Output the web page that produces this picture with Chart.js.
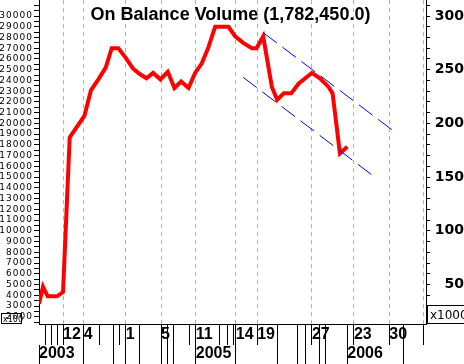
<!DOCTYPE html>
<html>
<head>
<meta charset="utf-8">
<script src="https://cdn.jsdelivr.net/npm/chart.js@4.4.1/dist/chart.umd.min.js"></script>
<style>
  html, body { margin: 0; padding: 0; background: #fff; }
</style>
</head>
<body>
<canvas id="obvChart" width="464" height="364"></canvas>
<script>
// OBV line (period = weeks from start, value in x100)
const periods = [0, 0.6, 1.3, 2.7, 3.6, 4.6, 6.8, 7.8, 8.9, 10.0, 10.9, 11.9, 13.0, 14.1, 15.1,
  16.1, 17.1, 18.2, 19.3, 20.3, 21.3, 22.4, 23.4, 24.4, 25.4, 26.4, 28.4, 29.4, 30.6, 31.9,
  32.6, 33.6, 34.9, 35.7, 36.7, 37.8, 38.9, 39.9, 40.9, 42.1, 43.4, 44.0, 45.1, 46.2];
const obv = [3200, 4800, 3900, 3900, 4300, 18700, 20700, 23100, 24100, 25200, 27000, 27000, 26100, 25100, 24600,
  24200, 24700, 24100, 24800, 23300, 23900, 23300, 24700, 25600, 27100, 29000, 29000, 28100, 27500, 27000,
  27000, 28100, 23400, 22200, 22800, 22800, 23700, 24200, 24700, 24200, 23400, 22800, 17200, 17824.5];

// trend channel
const upperX = [33.6, 53.4];
const upperY = [28450, 19170];
const lowerX = [30.6, 49.9];
const lowerY = [24290, 15200];

// bottom rows
const row1Ticks = [0.9, 1.8, 2.7, 3.6, 6.7, 9.1, 11.1, 12.1, 13.0, 15.1, 18.3, 19.2, 20.1, 22.6, 23.5,
  27.1, 28.2, 29.1, 29.5, 32.7, 35.8, 38.8, 39.9, 40.9, 42.1, 43.0, 46.2, 47.2, 52.5, 54.6, 57.6];
const row1Labels = ['', '', '', '12', '4', '', '', '', '1', '', '5', '', '', '', '11',
  '', '', '', '14', '19', '', '', '', '27', '', '', '', '23', '30', '', ''];
const gridTicks = [3.6, 6.7, 13.0, 18.3, 23.5, 29.5, 32.7, 40.9, 47.2, 52.5, 57.6];
const row2Ticks = [0, 6.7, 11.1, 13.0, 15.1, 18.3, 19.2, 20.1, 23.5, 29.5, 35.8, 38.8, 39.9, 42.1, 43.0, 46.2, 54.6];
const row2Labels = ['2003', '', '', '', '', '', '', '', '2005', '', '', '', '', '', '', '2006', ''];

// value axes
const leftMin = 1325, leftMax = 31490;
const leftStep = 500, leftLabelEvery = 1000, leftLabelMax = 30000;
const rightStep = 10, rightLabelEvery = 50;

const last = obv[obv.length - 1] * 100;
const titleText = 'On Balance Volume (' +
  last.toLocaleString('en-US', { minimumFractionDigits: 1, maximumFractionDigits: 1 }) + ')';

const toPts = (xs, ys) => xs.map((x, i) => ({ x: x, y: ys[i] }));
const noPad = s => { s.paddingTop = 0; s.paddingBottom = 0; s.paddingLeft = 0; s.paddingRight = 0; };
const stepTicks = (s, step) => {
  const out = [];
  for (let v = Math.ceil(s.min / step) * step; v <= s.max; v += step) out.push({ value: v });
  s.ticks = out;
};

const extras = {
  id: 'extras',
  beforeDraw(chart) { chart.ctx.letterSpacing = '1px'; },
  beforeDatasetsDraw(chart) { chart.ctx.letterSpacing = '0px'; },
  afterDraw(chart) {
    const { ctx, chartArea } = chart;
    ctx.save();
    ctx.fillStyle = '#000';
    ctx.font = 'bold 18px "Liberation Sans"';
    ctx.textAlign = 'center';
    ctx.fillText(titleText, (chartArea.left + chartArea.right) / 2 - 2, 20);

    ctx.lineWidth = 1;
    ctx.strokeStyle = '#000';
    // right unit box
    ctx.fillStyle = '#fff';
    ctx.fillRect(427.5, chartArea.bottom - 18.5, 40, 18);
    ctx.strokeRect(427.5, chartArea.bottom - 18.5, 40, 18);
    ctx.fillStyle = '#000';
    ctx.textAlign = 'left';
    ctx.font = '12px "DejaVu Sans"';
    ctx.fillText('x1000', 430, chartArea.bottom - 5);
    // left unit box
    ctx.strokeRect(1.5, chartArea.bottom - 10.5, 20, 10);
    ctx.font = '8px "DejaVu Sans"';
    ctx.fillText('x100', 3, chartArea.bottom - 2);
    ctx.restore();
  }
};

new Chart(document.getElementById('obvChart'), {
  type: 'line',
  data: {
    datasets: [
      {
        data: toPts(upperX, upperY),
        borderColor: '#0000ff', borderWidth: 1, borderDash: [17, 7],
        pointRadius: 0, order: 0
      },
      {
        data: toPts(lowerX, lowerY),
        borderColor: '#0000ff', borderWidth: 1, borderDash: [17, 7],
        pointRadius: 0, order: 0
      },
      {
        data: toPts(periods, obv),
        borderColor: '#ff0000', borderWidth: 4,
        pointRadius: 0, tension: 0, order: 1
      }
    ]
  },
  options: {
    responsive: false,
    animation: false,
    devicePixelRatio: 1,
    layout: { padding: 0 },
    plugins: { legend: { display: false }, tooltip: { enabled: false }, title: { display: false } },
    scales: {
      x: {
        type: 'linear', position: 'bottom', min: 0, max: 58, weight: 0,
        afterBuildTicks: s => { s.ticks = row1Ticks.map(v => ({ value: v })); },
        afterFit: s => { s.height = 21; noPad(s); },
        ticks: {
          autoSkip: false, maxRotation: 0, minRotation: 0, align: 'start', padding: -20.5, z: 1,
          color: '#000', font: { family: 'Liberation Sans', size: 16, weight: 'bold' },
          callback: (v, i) => row1Labels[i]
        },
        grid: {
          drawOnChartArea: true, tickLength: 21, tickColor: '#000',
          color: c => (c.tick && gridTicks.includes(c.tick.value)) ? '#b0b0b0' : 'rgba(0,0,0,0)'
        },
        border: { color: '#000', dash: [4, 4] }
      },
      x2: {
        type: 'linear', position: 'bottom', min: 0, max: 58, weight: 1,
        afterBuildTicks: s => { s.ticks = row2Ticks.map(v => ({ value: v })); },
        afterFit: s => { s.height = 19; noPad(s); },
        ticks: {
          autoSkip: false, maxRotation: 0, minRotation: 0, align: 'start', padding: -20.5, z: 1,
          color: '#000', font: { family: 'Liberation Sans', size: 16, weight: 'bold' },
          callback: (v, i) => row2Labels[i]
        },
        grid: { drawOnChartArea: false, tickLength: 19, color: '#000' },
        border: { display: false }
      },
      y: {
        position: 'left', min: leftMin, max: leftMax,
        afterBuildTicks: s => stepTicks(s, leftStep),
        afterFit: s => { s.width = 39; noPad(s); },
        ticks: {
          autoSkip: false, padding: 1,
          color: '#000', font: { family: 'DejaVu Sans', size: 9 },
          callback: v => (v % leftLabelEvery === 0 && v <= leftLabelMax ? String(v) : '')
        },
        grid: { drawOnChartArea: false, tickLength: 5, color: '#000' },
        border: { color: '#000' }
      },
      y2: {
        position: 'right', min: leftMin / 100, max: leftMax / 100,
        afterBuildTicks: s => stepTicks(s, rightStep),
        afterFit: s => { s.width = 38; noPad(s); },
        ticks: {
          autoSkip: false, padding: 1, crossAlign: 'far', z: 1,
          color: '#000', font: { family: 'DejaVu Sans', size: 14, weight: 'bold' },
          callback: v => (v % rightLabelEvery === 0 ? String(v) : '')
        },
        grid: { drawOnChartArea: false, tickLength: 4, color: '#000' },
        border: { color: '#000' }
      }
    }
  },
  plugins: [extras]
});
</script>
</body>
</html>
